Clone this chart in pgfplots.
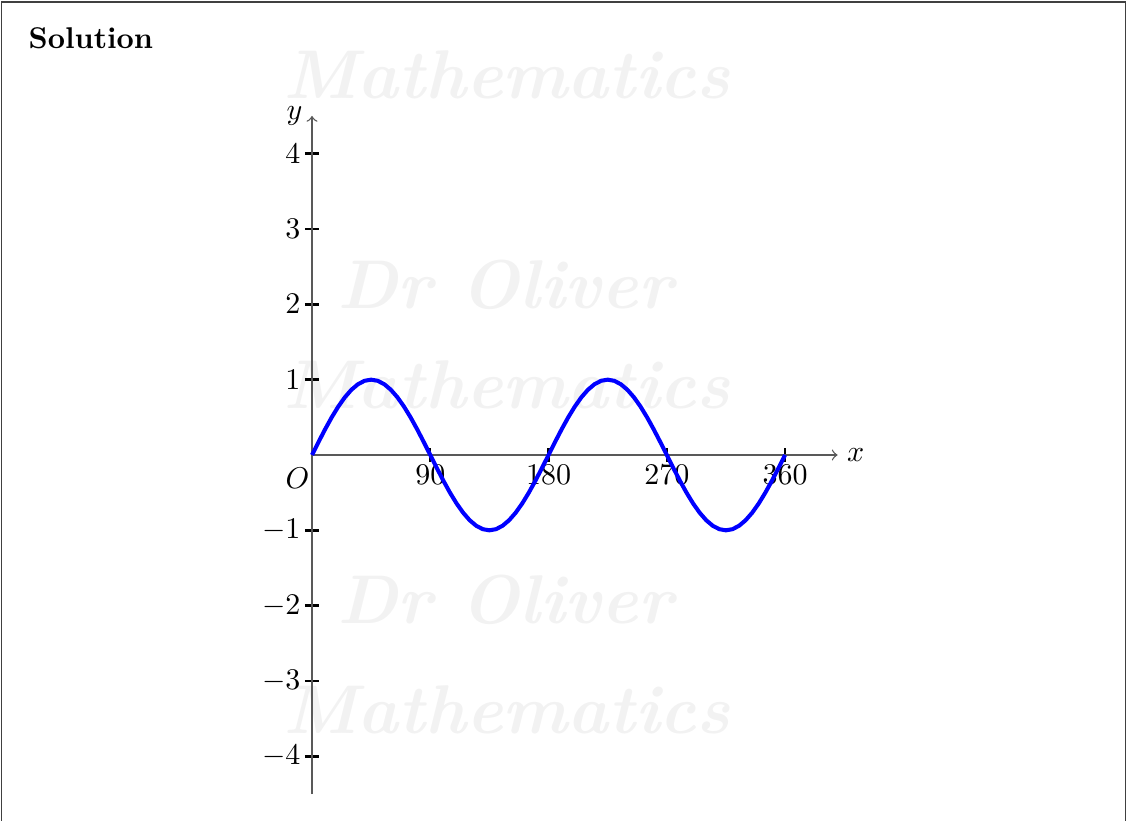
\documentclass[border=0pt]{standalone}
\usepackage{pgfplots}
\pgfplotsset{compat=1.18}
\begin{document}
\begin{tikzpicture}
\begin{scope}[x=0.33333pt,y=0.33333pt]
\useasboundingbox (0,0) rectangle (1127,820);
\clip (0,0) rectangle (1127,820);
% frame of the solution box
\draw[line width=0.5pt, black!75] (1.5,818) rectangle (1125.5,-20);
\node[anchor=base west, font=\bfseries, inner sep=0pt] at (28,771) {Solution};
% background watermark
\begin{scope}[every node/.style={text=black!5, font=\fontsize{23}{28}\selectfont\bfseries\itshape}]
\node at (507,745) {Mathematics};
\node at (505,535) {Dr Oliver};
\node at (507,435) {Mathematics};
\node at (505,220) {Dr Oliver};
\node at (507,110) {Mathematics};
\end{scope}
\end{scope}
\begin{axis}[
  at={(104pt,121.667pt)}, anchor=origin,
  x=0.4380pt, y=25.111pt,
  axis lines=middle,
  xmin=0, xmax=400, ymin=-4.5, ymax=4.5,
  xtick={90,180,270,360},
  ytick={-4,-3,-2,-1,1,2,3,4},
  tick align=center,
  major tick length=4.7pt,
  tick style={black, line width=0.8pt},
  axis line style={black!65, line width=0.45pt},
  x axis line style={-to},
  y axis line style={-to},
  xticklabel style={yshift=2.6pt},
  yticklabel style={xshift=2pt},
  clip=false,
]
\addplot[blue, line width=1.35pt] table {
x y
0 0
5 0.1736
10 0.3420
15 0.5
20 0.6428
25 0.7660
30 0.8660
35 0.9397
40 0.9848
45 1
50 0.9848
55 0.9397
60 0.8660
65 0.7660
70 0.6428
75 0.5
80 0.3420
85 0.1736
90 0
95 -0.1736
100 -0.3420
105 -0.5
110 -0.6428
115 -0.7660
120 -0.8660
125 -0.9397
130 -0.9848
135 -1
140 -0.9848
145 -0.9397
150 -0.8660
155 -0.7660
160 -0.6428
165 -0.5
170 -0.3420
175 -0.1736
180 0
185 0.1736
190 0.3420
195 0.5
200 0.6428
205 0.7660
210 0.8660
215 0.9397
220 0.9848
225 1
230 0.9848
235 0.9397
240 0.8660
245 0.7660
250 0.6428
255 0.5
260 0.3420
265 0.1736
270 0
275 -0.1736
280 -0.3420
285 -0.5
290 -0.6428
295 -0.7660
300 -0.8660
305 -0.9397
310 -0.9848
315 -1
320 -0.9848
325 -0.9397
330 -0.8660
335 -0.7660
340 -0.6428
345 -0.5
350 -0.3420
355 -0.1736
360 0
};
\node[anchor=north east, inner sep=2pt, yshift=-2.3pt, xshift=1.3pt] at (axis cs:0,0) {$O$};
\node[anchor=west, inner sep=3pt] at (axis cs:400,0) {$x$};
\node[anchor=east, inner sep=3pt] at (axis cs:0,4.5) {$y$};
\end{axis}
\end{tikzpicture}
\end{document}
